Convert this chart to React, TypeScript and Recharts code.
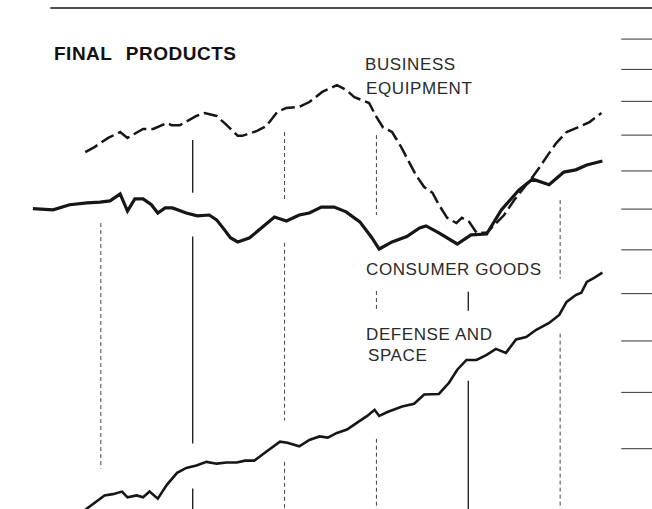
import React from 'react';
import { LineChart, Line, XAxis, YAxis, ReferenceLine } from 'recharts';

const consumerYears = [
  1978.26, 1978.48, 1978.66, 1978.85, 1978.99, 1979.1, 1979.21, 1979.29, 1979.37, 1979.46,
  1979.55, 1979.62, 1979.7, 1979.78, 1979.93, 1980.05, 1980.18, 1980.26, 1980.34, 1980.41,
  1980.49, 1980.62, 1980.76, 1980.89, 1981.02, 1981.16, 1981.27, 1981.4, 1981.54, 1981.67,
  1981.82, 1981.95, 1982.03, 1982.17, 1982.33, 1982.47, 1982.54, 1982.68, 1982.88, 1983.03,
  1983.2, 1983.36, 1983.55, 1983.7, 1983.88, 1984.04, 1984.17, 1984.29, 1984.46,
];
const consumerIndex = [
  150.1, 149.8, 151.1, 151.6, 151.8, 152.1, 153.9, 149.5, 152.6, 152.6,
  151.1, 149.0, 150.3, 150.3, 149.0, 148.3, 148.5, 147.3, 145.0, 142.9,
  141.9, 142.9, 145.5, 148.0, 147.0, 148.5, 149.0, 150.5, 150.5, 149.3,
  146.8, 142.9, 140.2, 141.9, 143.2, 145.3, 145.8, 144.1, 141.4, 143.6,
  143.8, 149.8, 154.9, 157.8, 156.3, 159.7, 160.3, 161.6, 162.7,
];

const equipmentYears = [
  1978.83, 1978.93, 1979.08, 1979.21, 1979.29, 1979.46, 1979.57, 1979.72, 1979.77, 1979.86,
  1980.04, 1980.13, 1980.26, 1980.37, 1980.49, 1980.54, 1980.7, 1980.8, 1980.92, 1981.02,
  1981.16, 1981.27, 1981.41, 1981.57, 1981.67, 1981.76, 1981.92, 1982.0, 1982.07, 1982.17,
  1982.27, 1982.36, 1982.43, 1982.52, 1982.61, 1982.68, 1982.77, 1982.87, 1982.93, 1983.01,
  1983.09, 1983.2, 1983.39, 1983.5, 1983.7, 1983.77, 1983.88, 1983.96, 1984.07, 1984.18,
  1984.32, 1984.45,
];
const equipmentIndex = [
  165.2, 166.6, 169.2, 170.9, 169.2, 171.8, 171.8, 173.5, 172.9, 172.9,
  175.6, 176.5, 175.6, 172.9, 169.8, 169.8, 171.2, 172.6, 176.8, 178.0,
  178.3, 179.8, 182.9, 185.0, 183.5, 181.3, 179.5, 175.3, 172.3, 170.9,
  166.6, 162.2, 158.9, 155.7, 154.2, 151.1, 147.8, 146.5, 147.8, 146.8,
  144.1, 144.1, 148.5, 152.3, 158.4, 160.8, 164.9, 167.8, 170.9, 172.1,
  173.8, 176.5,
];

const defenseYears = [
  1978.77, 1978.86, 1979.04, 1979.13, 1979.23, 1979.29, 1979.39, 1979.46, 1979.53, 1979.62,
  1979.72, 1979.83, 1979.93, 1980.04, 1980.15, 1980.26, 1980.37, 1980.48, 1980.57, 1980.67,
  1980.8, 1980.95, 1981.03, 1981.16, 1981.27, 1981.38, 1981.47, 1981.57, 1981.68, 1981.79,
  1981.9, 1981.98, 1982.03, 1982.12, 1982.28, 1982.41, 1982.52, 1982.68, 1982.79, 1982.88,
  1982.98, 1983.09, 1983.2, 1983.3, 1983.41, 1983.52, 1983.63, 1983.74, 1983.88, 1983.99,
  1984.07, 1984.17, 1984.23, 1984.29, 1984.37, 1984.46,
];
const defenseIndex = [
  89.5, 90.5, 92.4, 92.6, 93.0, 92.1, 92.4, 92.1, 93.0, 91.9,
  94.1, 96.0, 96.8, 97.2, 97.8, 97.5, 97.7, 97.7, 98.0, 98.0,
  99.5, 101.2, 101.0, 100.4, 101.5, 102.1, 101.9, 102.7, 103.3, 104.5,
  105.7, 106.8, 105.7, 106.4, 107.4, 107.9, 109.6, 109.7, 111.8, 114.3,
  116.2, 116.2, 117.2, 118.4, 117.6, 120.3, 120.8, 122.3, 123.7, 125.4,
  128.2, 129.7, 130.2, 132.6, 133.5, 134.7,
];

// ratio-scale ticks on the right edge
const scaleTicks = [100, 110, 120, 130, 140, 150, 160, 170, 180, 190, 200];

// year rules, broken where curves and labels cross them
const gridYears = [1979, 1980, 1981, 1982, 1983, 1984];
const solidGridYears = [1980, 1983];
const gridSpans = [
  [[146.5, 96.7]],
  [[168.6, 154.2], [143.2, 100.9], [93.5, 90.3]],
  [[170.9, 152.3], [141.7, 104.9], [97.8, 90.3]],
  [[170.0, 148.5], [130.6, 126.7], [101.7, 90.3]],
  [[130.4, 126.3], [112.2, 90.3]],
  [[152.3, 133.3], [121.5, 90.3]],
];

const zip = (years: number[], vals: number[]) => years.map((t, i) => ({ t, v: vals[i] }));

const consumer = zip(consumerYears, consumerIndex);
const equipment = zip(equipmentYears, equipmentIndex);
const defense = zip(defenseYears, defenseIndex);

const INK = '#161616';
const X_DOMAIN: [number, number] = [1977.902, 1985];
const Y_DOMAIN: [number, number] = [90.3, 210.8];
const TICK_START = 1984.665;

const labelBase: React.CSSProperties = {
  position: 'absolute',
  fontSize: 17,
  lineHeight: '17px',
  letterSpacing: 0.6,
  color: '#2a2a2a',
  whiteSpace: 'nowrap',
};

export default function App() {
  return (
    <div
      style={{
        position: 'absolute', left: 0, top: 0, width: 652, height: 509,
        background: '#fff', overflow: 'hidden',
        fontFamily: '"Liberation Sans", Arial, sans-serif',
      }}
    >
      <LineChart width={652} height={509} margin={{ top: 8, right: 0, bottom: 0, left: 0 }}>
        <XAxis type="number" dataKey="t" domain={X_DOMAIN} hide allowDataOverflow />
        <YAxis type="number" scale="log" domain={Y_DOMAIN} allowDataOverflow hide />

        <ReferenceLine
          segment={[{ x: 1978.45, y: Y_DOMAIN[1] }, { x: X_DOMAIN[1], y: Y_DOMAIN[1] }]}
          stroke={INK}
          strokeWidth={1.5}
          ifOverflow="visible"
        />
        {scaleTicks.map((v) => (
          <ReferenceLine
            key={`tick-${v}`}
            segment={[{ x: TICK_START, y: v }, { x: X_DOMAIN[1], y: v }]}
            stroke="#333"
            strokeWidth={1}
            ifOverflow="visible"
          />
        ))}
        {gridYears.map((yr, i) =>
          gridSpans[i].map(([a, b], j) => (
            <ReferenceLine
              key={`${yr}-${j}`}
              segment={[{ x: yr, y: a }, { x: yr, y: b }]}
              stroke={solidGridYears.includes(yr) ? INK : '#444'}
              strokeWidth={solidGridYears.includes(yr) ? 1.3 : 1}
              strokeDasharray={solidGridYears.includes(yr) ? undefined : '4 3'}
              ifOverflow="visible"
            />
          ))
        )}

        <Line data={equipment} dataKey="v" type="linear" stroke={INK} strokeWidth={2.5}
          strokeDasharray="14 5" dot={false} isAnimationActive={false} />
        <Line data={consumer} dataKey="v" type="linear" stroke={INK} strokeWidth={3.2}
          dot={false} isAnimationActive={false} />
        <Line data={defense} dataKey="v" type="linear" stroke={INK} strokeWidth={2.6}
          dot={false} isAnimationActive={false} />
      </LineChart>

      <div style={{ ...labelBase, left: 54, top: 44, fontSize: 19, lineHeight: '19px', fontWeight: 700, letterSpacing: 0.5, wordSpacing: 8, color: '#111' }}>
        FINAL PRODUCTS
      </div>
      <div style={{ ...labelBase, left: 365, top: 56 }}>BUSINESS</div>
      <div style={{ ...labelBase, left: 366, top: 80 }}>EQUIPMENT</div>
      <div style={{ ...labelBase, left: 366, top: 261 }}>CONSUMER GOODS</div>
      <div style={{ ...labelBase, left: 366, top: 326 }}>DEFENSE AND</div>
      <div style={{ ...labelBase, left: 368, top: 347 }}>SPACE</div>
    </div>
  );
}
